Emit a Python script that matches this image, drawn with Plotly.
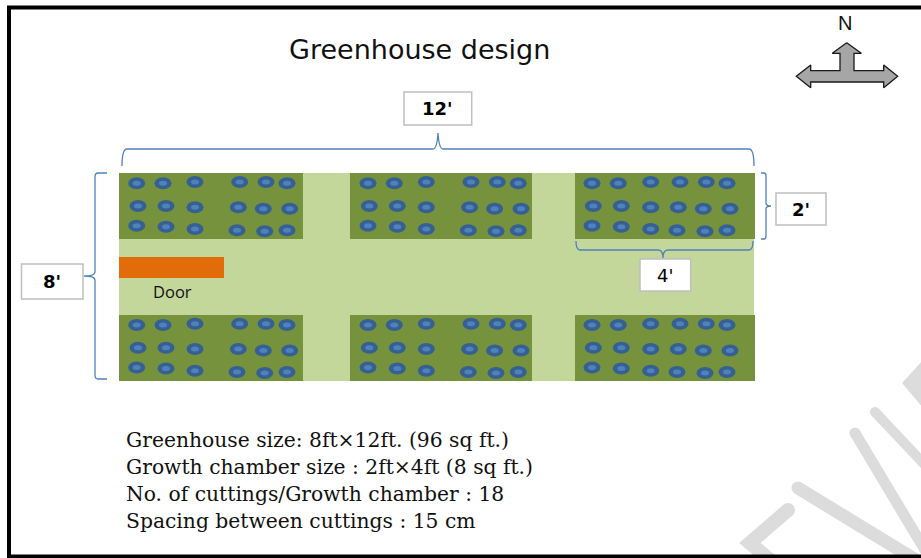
import plotly.graph_objects as go

# everything is laid out in the picture's own pixels
title = "Greenhouse design"
notes = [
    "Greenhouse size: 8ft×12ft. (96 sq ft.)",
    "Growth chamber size : 2ft×4ft (8 sq ft.)",
    "No. of cuttings/Growth chamber : 18",
    "Spacing between cuttings : 15 cm",
]
notes_y = [440, 467, 494, 521]

# growth chambers
bed_x0 = [119, 350, 575]
bed_x1 = [303, 532, 755]
bed_y0 = [173, 315]
bed_y1 = [239, 381]

# cuttings in the top left chamber, and in the right hand one
cutting_x_left = [136.7, 163, 195, 239.7, 266, 287,
                  138, 166, 195, 238.3, 263.3, 289.7,
                  136.7, 166, 195, 237, 264.7, 287]
cutting_x_right = [592, 618.3, 650.7, 680, 706.3, 727,
                   593.3, 621.3, 650.7, 678.3, 703.3, 730,
                   592, 621.3, 650.7, 677, 705, 727]
cutting_y = [183.3, 183.3, 182, 182, 182, 183.3,
             206, 206, 207.3, 207.3, 208.7, 208.7,
             225.7, 226.7, 229, 230.3, 231.3, 230.3]
middle_shift = 231.3
lower_shift = 141.7

arrow_x = [846.7, 861.3, 854, 854, 883.7, 883.7, 897.7, 883.7, 883.7,
           810.7, 810.7, 796.3, 810.7, 810.7, 840, 840, 832.3, 846.7]
arrow_y = [42.7, 53.3, 53.3, 70.7, 70.7, 65, 76.3, 87.7, 82,
           82, 87.7, 76.3, 65, 70.7, 70.7, 53.3, 53.3, 42.7]

# faint watermark strokes in the lower right corner
mark_strokes = [
    ([788, 750, 770], [510, 543, 560], 14),
    ([798, 916], [488, 560], 13),
    ([855, 925], [433, 550], 11),
    ([875, 925], [412, 465], 10),
]
mark_blob_x = [925, 904, 925]
mark_blob_y = [360, 383, 408]

labels = [
    ("12'", 404, 471.7, 92, 125),
    ("2'", 776, 826, 193, 225),
    ("4'", 640, 690.7, 259, 291),
    ("8'", 21.5, 83, 264, 299),
]

braces = [
    "M122,166 Q122,149 127,149 L433,149 Q437,149 438,133 Q439,149 443,149 L749,149 Q754,149 754,166",
    "M107,173 L98,173 Q95,173 95,177 L95,272 Q95,276 84,276 Q95,276 95,280 L95,375 Q95,379 98,379 L107,379",
    "M761,173 L764,173 Q766,173 766,176 L766,203 Q766,206 771,206 Q766,206 766,209 L766,236 Q766,239 764,239 L761,239",
    "M576,241 Q576,250 580,250 L658,250 Q663,250 663,258 Q663,250 668,250 L749,250 Q753,250 753,241",
]

GROUND = "#c4d79b"
BED = "#76923c"
POT = "#376092"
POT_CORE = "#4f81bd"
BRACE = "#4f81bd"
MARK = "#dcdcdc"

shapes = [dict(type="rect", x0=119, x1=754, y0=173, y1=381,
               fillcolor=GROUND, line_width=0, layer="below")]
for y0, y1 in zip(bed_y0, bed_y1):
    for x0, x1 in zip(bed_x0, bed_x1):
        shapes.append(dict(type="rect", x0=x0, x1=x1, y0=y0, y1=y1,
                           fillcolor=BED, line_width=0, layer="below"))
shapes.append(dict(type="rect", x0=119, x1=224, y0=257, y1=278,
                   fillcolor="#e36c0a", line_width=0, layer="below"))


def add_cutting(x, y):
    shapes.append(dict(type="circle", x0=x - 8.5, x1=x + 8.5, y0=y - 6, y1=y + 6,
                       fillcolor=POT, line_width=0))
    shapes.append(dict(type="circle", x0=x - 4, x1=x + 4, y0=y - 2.5, y1=y + 2.5,
                       fillcolor=POT_CORE, line_width=0))


for shift_y in [0, lower_shift]:
    for x, y in zip(cutting_x_left, cutting_y):
        add_cutting(x, y + shift_y)
        add_cutting(x + middle_shift, y + shift_y)
    for x, y in zip(cutting_x_right, cutting_y):
        add_cutting(x, y + shift_y)

for path in braces:
    shapes.append(dict(type="path", path=path, line=dict(color=BRACE, width=1.3)))

# frame: the right side runs off the picture
shapes.append(dict(type="path", path="M925,7.5 L9,7.5 L9,556.5 L925,556.5",
                   line=dict(color="#000000", width=4), layer="above"))

annotations = [
    dict(x=419, y=49, text=title, font=dict(family="DejaVu Sans", size=27, color="#111111"),
         showarrow=False, xanchor="center", yanchor="middle"),
    dict(x=845, y=23, text="N", font=dict(family="Liberation Sans", size=20, color="#111111"),
         showarrow=False, xanchor="center", yanchor="middle"),
    dict(x=172, y=291, text="Door", font=dict(family="Open Sans", size=16.5, color="#111111"),
         showarrow=False, xanchor="center", yanchor="middle"),
]
for text, x0, x1, y0, y1 in labels:
    shapes.append(dict(type="rect", x0=x0, x1=x1, y0=y0, y1=y1, fillcolor="white",
                       line=dict(color="#bfbfbf", width=1.5), layer="above"))
    annotations.append(dict(x=(x0 + x1) / 2, y=(y0 + y1) / 2, text=text,
                            font=dict(family="DejaVu Sans", size=18, color="#000000",
                                      weight="normal" if text == "4'" else "bold"),
                            showarrow=False, xanchor="center", yanchor="middle"))
for text, y in zip(notes, notes_y):
    annotations.append(dict(x=123.5, y=y, text=text,
                            font=dict(family="DejaVu Serif", size=20.3, color="#111111"),
                            showarrow=False, xanchor="left", yanchor="middle"))

fig = go.Figure()
for xs, ys, width in mark_strokes:
    fig.add_trace(go.Scatter(x=xs, y=ys, mode="lines+markers",
                             line=dict(color=MARK, width=width),
                             marker=dict(color=MARK, size=width), hoverinfo="skip"))
fig.add_trace(go.Scatter(x=mark_blob_x, y=mark_blob_y, mode="lines", fill="toself",
                         fillcolor=MARK, line=dict(color=MARK, width=3), hoverinfo="skip"))
fig.add_trace(go.Scatter(x=arrow_x, y=arrow_y, mode="lines", fill="toself",
                         fillcolor="#a6a6a6", line=dict(color="#1a1a1a", width=1.3),
                         hoverinfo="skip"))

fig.update_layout(
    width=921, height=558, margin=dict(l=0, r=0, t=0, b=0),
    paper_bgcolor="white", plot_bgcolor="white", showlegend=False,
    xaxis=dict(range=[0, 921], visible=False, fixedrange=True),
    yaxis=dict(range=[558, 0], visible=False, fixedrange=True),
    shapes=shapes, annotations=annotations,
)

# the page's default body margin would push the picture 8px down and right
fig.write_html("out.html", config={"displayModeBar": False},
               post_script="document.body.style.margin = '0';")
